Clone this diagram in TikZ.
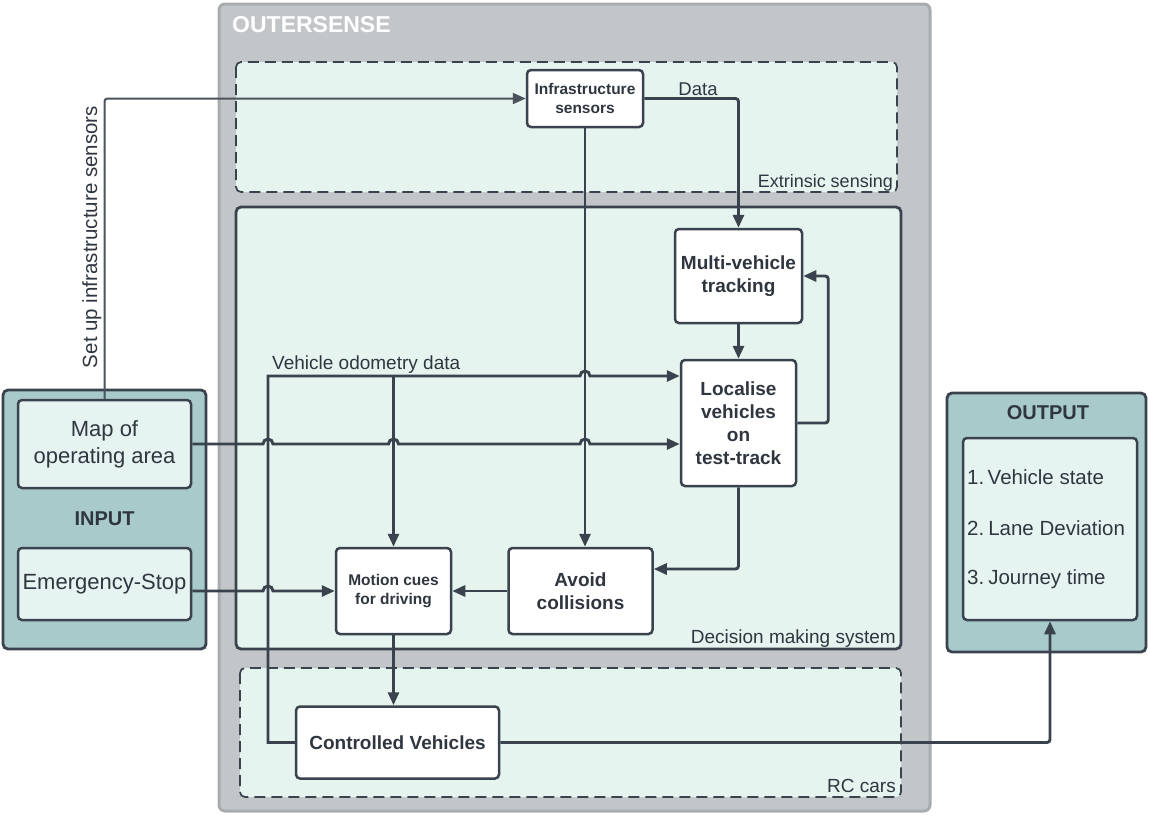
\documentclass[tikz,border=0pt]{standalone}
\usepackage{fontspec}
\setmainfont{Liberation Sans}
\usetikzlibrary{arrows.meta,calc}
\definecolor{lineC}{HTML}{3A424D}
\definecolor{textC}{HTML}{2F3640}
\definecolor{outerFill}{HTML}{C3C6C9}
\definecolor{outerDraw}{HTML}{A9ACAF}
\definecolor{mint}{HTML}{E5F4EF}
\definecolor{teal}{HTML}{A8CACB}
\definecolor{innerMint}{HTML}{E6F4F1}
\definecolor{setupC}{HTML}{4A525C}
\begin{document}
\begin{tikzpicture}[x=1pt,y=-1pt,
  conn/.style={draw=lineC, line width=2.9pt, -{Triangle[length=13pt,width=11pt]}, rounded corners=3pt},
  hopconn/.style={conn, sharp corners},
  proc/.style={draw=lineC, fill=white, line width=2.5pt, rounded corners=4pt, align=center, inner sep=0pt, text=textC},
  inbox/.style={draw=lineC, fill=innerMint, line width=2.5pt, rounded corners=4pt, align=center, inner sep=0pt, text=textC},
  lbl/.style={text=textC, inner sep=0pt},
  dashbox/.style={draw=lineC, fill=mint, line width=1.7pt, dash pattern=on 11pt off 6pt, rounded corners=5pt}
]
\useasboundingbox (0,0) rectangle (1149,815);

% containers
\draw[fill=outerFill, draw=outerDraw, line width=3pt, rounded corners=6pt] (219,4) rectangle (930,811);
\node[anchor=base west, text=white, inner sep=0pt, font=\fontsize{23}{27}\selectfont\bfseries] (outerlbl) at (232,32) {OUTERSENSE};

\draw[dashbox] (236,62) rectangle (897,192);
\node[lbl, anchor=base east, font=\fontsize{18}{22}\selectfont] (extlbl) at (893,187) {Extrinsic sensing};

\draw[fill=mint, draw=lineC, line width=2.8pt, rounded corners=5pt] (236,207) rectangle (901,649);
\node[lbl, anchor=base east, font=\fontsize{19}{23}\selectfont] (declbl) at (896,643) {Decision making system};

\draw[dashbox] (240,668) rectangle (901,797);
\node[lbl, anchor=base east, font=\fontsize{19}{23}\selectfont] (rclbl) at (896,792) {RC cars};

\draw[fill=teal, draw=lineC, line width=2.8pt, rounded corners=5pt] (3,390) rectangle (206,649);
\node[lbl, anchor=base, font=\fontsize{20}{24}\selectfont\bfseries] (inlbl) at (104.5,525) {INPUT};

\draw[fill=teal, draw=lineC, line width=2.8pt, rounded corners=5pt] (947,393) rectangle (1146,652);
\node[lbl, anchor=base, font=\fontsize{20}{24}\selectfont\bfseries] (outlbl) at (1048,419) {OUTPUT};

% nodes
\node[proc, minimum width=116pt, minimum height=57pt, font=\fontsize{15.5}{19}\selectfont\bfseries] (infra) at (585,98.5) {Infrastructure\\sensors};
\node[proc, minimum width=127pt, minimum height=94pt, font=\fontsize{19}{22.5}\selectfont\bfseries] (mvt) at (738.5,276) {Multi-vehicle\\tracking};
\node[proc, minimum width=115pt, minimum height=126pt, font=\fontsize{19}{23}\selectfont\bfseries] (loc) at (738.5,423) {Localise\\vehicles\\on\\test-track};
\node[proc, minimum width=115pt, minimum height=86pt, font=\fontsize{15.5}{19}\selectfont\bfseries] (motion) at (393.5,591) {Motion cues\\for driving};
\node[proc, minimum width=144pt, minimum height=86pt, font=\fontsize{19}{22.5}\selectfont\bfseries] (avoid) at (580.5,591) {Avoid\\collisions};
\node[proc, minimum width=203pt, minimum height=72pt, font=\fontsize{19}{23}\selectfont\bfseries] (cv) at (397.5,742.5) {Controlled Vehicles};
\node[inbox, minimum width=173pt, minimum height=88pt, font=\fontsize{22}{27}\selectfont] (map) at (104.5,444) {Map of\\operating area};
\node[inbox, minimum width=173pt, minimum height=72pt, font=\fontsize{22}{27}\selectfont] (estop) at (104.5,584) {Emergency-Stop};
\node[inbox, minimum width=174pt, minimum height=182pt] (outin) at (1050,529) {};
\node[lbl, anchor=base west, font=\fontsize{20.5}{24}\selectfont] (o1) at (967,484) {1.\,Vehicle state};
\node[lbl, anchor=base west, font=\fontsize{20.5}{24}\selectfont] (o2) at (967,535) {2.\kern4pt Lane Deviation};
\node[lbl, anchor=base west, font=\fontsize{20.5}{24}\selectfont] (o3) at (967,584) {3.\kern4pt Journey time};

% helper coordinates
\coordinate (vx) at (268,0);
\coordinate (odoy) at (0,376);

% connectors
\draw[conn, draw=setupC, line width=2pt] (map.north) |- (infra.west);
\node[lbl, rotate=90, anchor=base, font=\fontsize{20.5}{24}\selectfont] (setuplbl) at (97,237) {Set up infrastructure sensors};

\draw[conn] (infra.east) -| (mvt.north);
\node[lbl, anchor=base, font=\fontsize{18.5}{22}\selectfont] (datalbl) at (698,95) {Data};

\draw[conn] (infra.south) -- (infra.south |- avoid.north);
\draw[conn] (mvt.south) -- (mvt.south |- loc.north);
\draw[conn] (loc.east) -- ++(31,0) |- (mvt.east);
\draw[conn] (loc.south) |- ([yshift=22pt]avoid.east);
\draw[conn] (avoid.west) -- (motion.east);

\draw[hopconn] (map.east)
  -- ($(vx |- map.east)+(-5pt,0)$) arc[start angle=180,end angle=0,radius=5pt]
  -- ($(motion.north |- map.east)+(-5pt,0)$) arc[start angle=180,end angle=0,radius=5pt]
  -- ($(infra.south |- map.east)+(-5pt,0)$) arc[start angle=180,end angle=0,radius=5pt]
  -- (loc.west |- map.east);

\draw[hopconn] (cv.west) -| (vx |- odoy)
  -- ($(infra.south |- odoy)+(-5pt,0)$) arc[start angle=180,end angle=0,radius=5pt]
  -- (loc.west |- odoy);
\node[lbl, anchor=base west, font=\fontsize{19}{23}\selectfont] (odolbl) at (272,369) {Vehicle odometry data};
\draw[conn] (motion.north |- odoy) -- (motion.north);

\draw[hopconn] (estop.east |- motion.west)
  -- ($(vx |- motion.west)+(-5pt,0)$) arc[start angle=180,end angle=0,radius=5pt]
  -- (motion.west);

\draw[conn] (motion.south) -- (motion.south |- cv.north);
\draw[conn] (cv.east) -| (outin.south);
\end{tikzpicture}
\end{document}
